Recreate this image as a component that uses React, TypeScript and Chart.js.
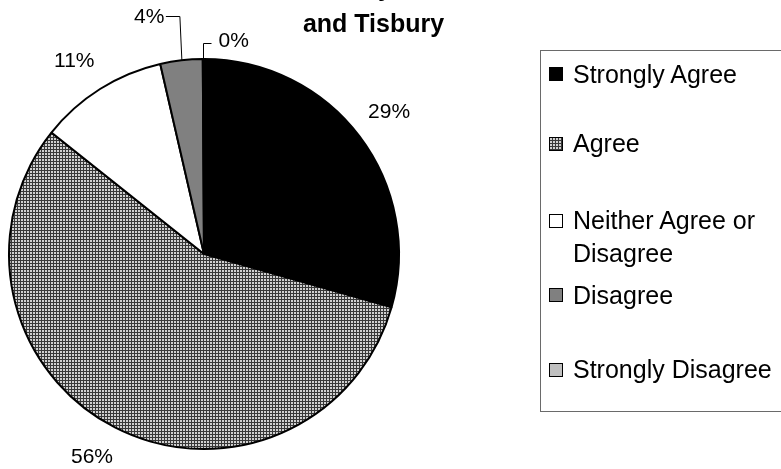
import React, { useEffect, useRef, useState } from "react";
import { Chart, registerables } from "chart.js";
Chart.register(...registerables);

const categories = [
  "Strongly Agree",
  "Agree",
  "Neither Agree or Disagree",
  "Disagree",
  "Strongly Disagree",
];
const legendLines = [
  ["Strongly Agree"],
  ["Agree"],
  ["Neither Agree or", "Disagree"],
  ["Disagree"],
  ["Strongly Disagree"],
];
const percentValues = [29.4, 56.3, 10.7, 3.5, 0.1];
const titleLines = ["West Tisbury, Chilmark", "and Tisbury"];

const FONT = "'Liberation Sans', Arial, Helvetica, sans-serif";

function makePatternCanvas(): HTMLCanvasElement {
  const c = document.createElement("canvas");
  c.width = 3;
  c.height = 3;
  const g = c.getContext("2d")!;
  g.fillStyle = "#383838";
  g.fillRect(0, 0, 3, 3);
  g.fillStyle = "#d0d0d0";
  g.fillRect(0, 0, 2, 2);
  return c;
}

const labelPlugin = {
  id: "pctLabels",
  afterDatasetsDraw(chart: any) {
    const ctx: CanvasRenderingContext2D = chart.ctx;
    const meta = chart.getDatasetMeta(0);
    ctx.save();
    ctx.font = `21px ${FONT}`;
    ctx.fillStyle = "#000";
    ctx.strokeStyle = "#000";
    ctx.lineWidth = 1;
    meta.data.forEach((arc: any, i: number) => {
      const { x, y, startAngle, endAngle, outerRadius } = arc.getProps(
        ["x", "y", "startAngle", "endAngle", "outerRadius"],
        true
      );
      const mid = (startAngle + endAngle) / 2;
      const text = Math.round(percentValues[i]) + "%";
      if (percentValues[i] >= 5) {
        const r = outerRadius + 37;
        const cx = Math.cos(mid);
        const sy = Math.sin(mid);
        // labels on the left side sit a little wider and flatter
        const dx = cx < -0.3 ? -6 : 0;
        const dy = cx < -0.3 ? -sy * 4 : -2;
        ctx.textAlign = "center";
        ctx.textBaseline = "middle";
        ctx.fillText(text, x + cx * r + dx, y + sy * r + dy);
      } else {
        const ax = x + Math.cos(mid) * outerRadius;
        const ay = y + Math.sin(mid) * outerRadius;
        const top = y - outerRadius;
        ctx.textBaseline = "middle";
        ctx.beginPath();
        if (i === 3) {
          const ey = top - 42.5;
          ctx.moveTo(ax + 0.5, ay);
          ctx.lineTo(ax - 1.5, ey);
          ctx.lineTo(ax - 15.5, ey);
          ctx.stroke();
          ctx.textAlign = "right";
          ctx.fillText(text, ax - 17, ey + 1);
        } else {
          const ey = top - 15.5;
          const lx = Math.round(ax) + 0.5;
          ctx.moveTo(lx, ay);
          ctx.lineTo(lx, ey);
          ctx.lineTo(lx + 8, ey);
          ctx.stroke();
          ctx.textAlign = "left";
          ctx.fillText(text, lx + 15, ey - 2);
        }
      }
    });
    ctx.restore();
  },
};

export default function App() {
  const canvasRef = useRef<HTMLCanvasElement | null>(null);
  const [patternUrl, setPatternUrl] = useState<string>("");

  useEffect(() => {
    const pc = makePatternCanvas();
    setPatternUrl(pc.toDataURL());
    const ctx = canvasRef.current!.getContext("2d")!;
    const pattern = ctx.createPattern(pc, "repeat")!;
    const chart = new Chart(canvasRef.current!, {
      type: "pie",
      data: {
        labels: categories,
        datasets: [
          {
            data: percentValues,
            backgroundColor: ["#000000", pattern as any, "#ffffff", "#808080", "#c0c0c0"],
            borderColor: "#000000",
            borderWidth: 2,
          },
        ],
      },
      options: {
        responsive: false,
        animation: false,
        layout: { padding: { left: 8, top: 58, right: 381, bottom: 19 } },
        plugins: {
          legend: { display: false },
          title: { display: false },
          tooltip: { enabled: false },
        },
      },
      plugins: [labelPlugin],
    });
    return () => chart.destroy();
  }, []);

  const swatchColors = ["#000000", "", "#ffffff", "#808080", "#c0c0c0"];
  const legendCenters = [74, 143.5, 220.5, 295, 369.5];
  const lineH = 33;

  return (
    <div
      style={{
        position: "fixed",
        left: 0,
        top: 0,
        width: 781,
        height: 469,
        overflow: "hidden",
        background: "#fff",
        fontFamily: FONT,
      }}
    >
      <canvas ref={canvasRef} width={781} height={469} style={{ position: "absolute", left: 0, top: 0 }} />
      {titleLines.map((t, i) => (
        <div
          key={i}
          style={{
            position: "absolute",
            left: 0,
            width: 747,
            top: i === 0 ? -28 : 8,
            lineHeight: "30px",
            fontSize: 25,
            fontWeight: "bold",
            textAlign: "center",
            whiteSpace: "nowrap",
            color: "#000",
          }}
        >
          {t}
        </div>
      ))}
      <div
        style={{
          position: "absolute",
          left: 540,
          top: 50,
          width: 300,
          height: 362,
          border: "1px solid #6a6a6a",
          boxSizing: "border-box",
        }}
      >
        {legendLines.map((lines, i) => (
          <React.Fragment key={i}>
            <div
              style={{
                position: "absolute",
                left: 8,
                top: legendCenters[i] - 51 - 7,
                width: 12,
                height: 12,
                border: "1px solid #000",
                background: i === 1 ? `url(${patternUrl})` : swatchColors[i],
              }}
            />
            <div
              style={{
                position: "absolute",
                left: 32,
                top: legendCenters[i] - 51 - lineH / 2,
                fontSize: 25,
                lineHeight: `${lineH}px`,
                whiteSpace: "nowrap",
                color: "#000",
              }}
            >
              {lines.map((l, j) => (
                <div key={j}>{l}</div>
              ))}
            </div>
          </React.Fragment>
        ))}
      </div>
    </div>
  );
}
